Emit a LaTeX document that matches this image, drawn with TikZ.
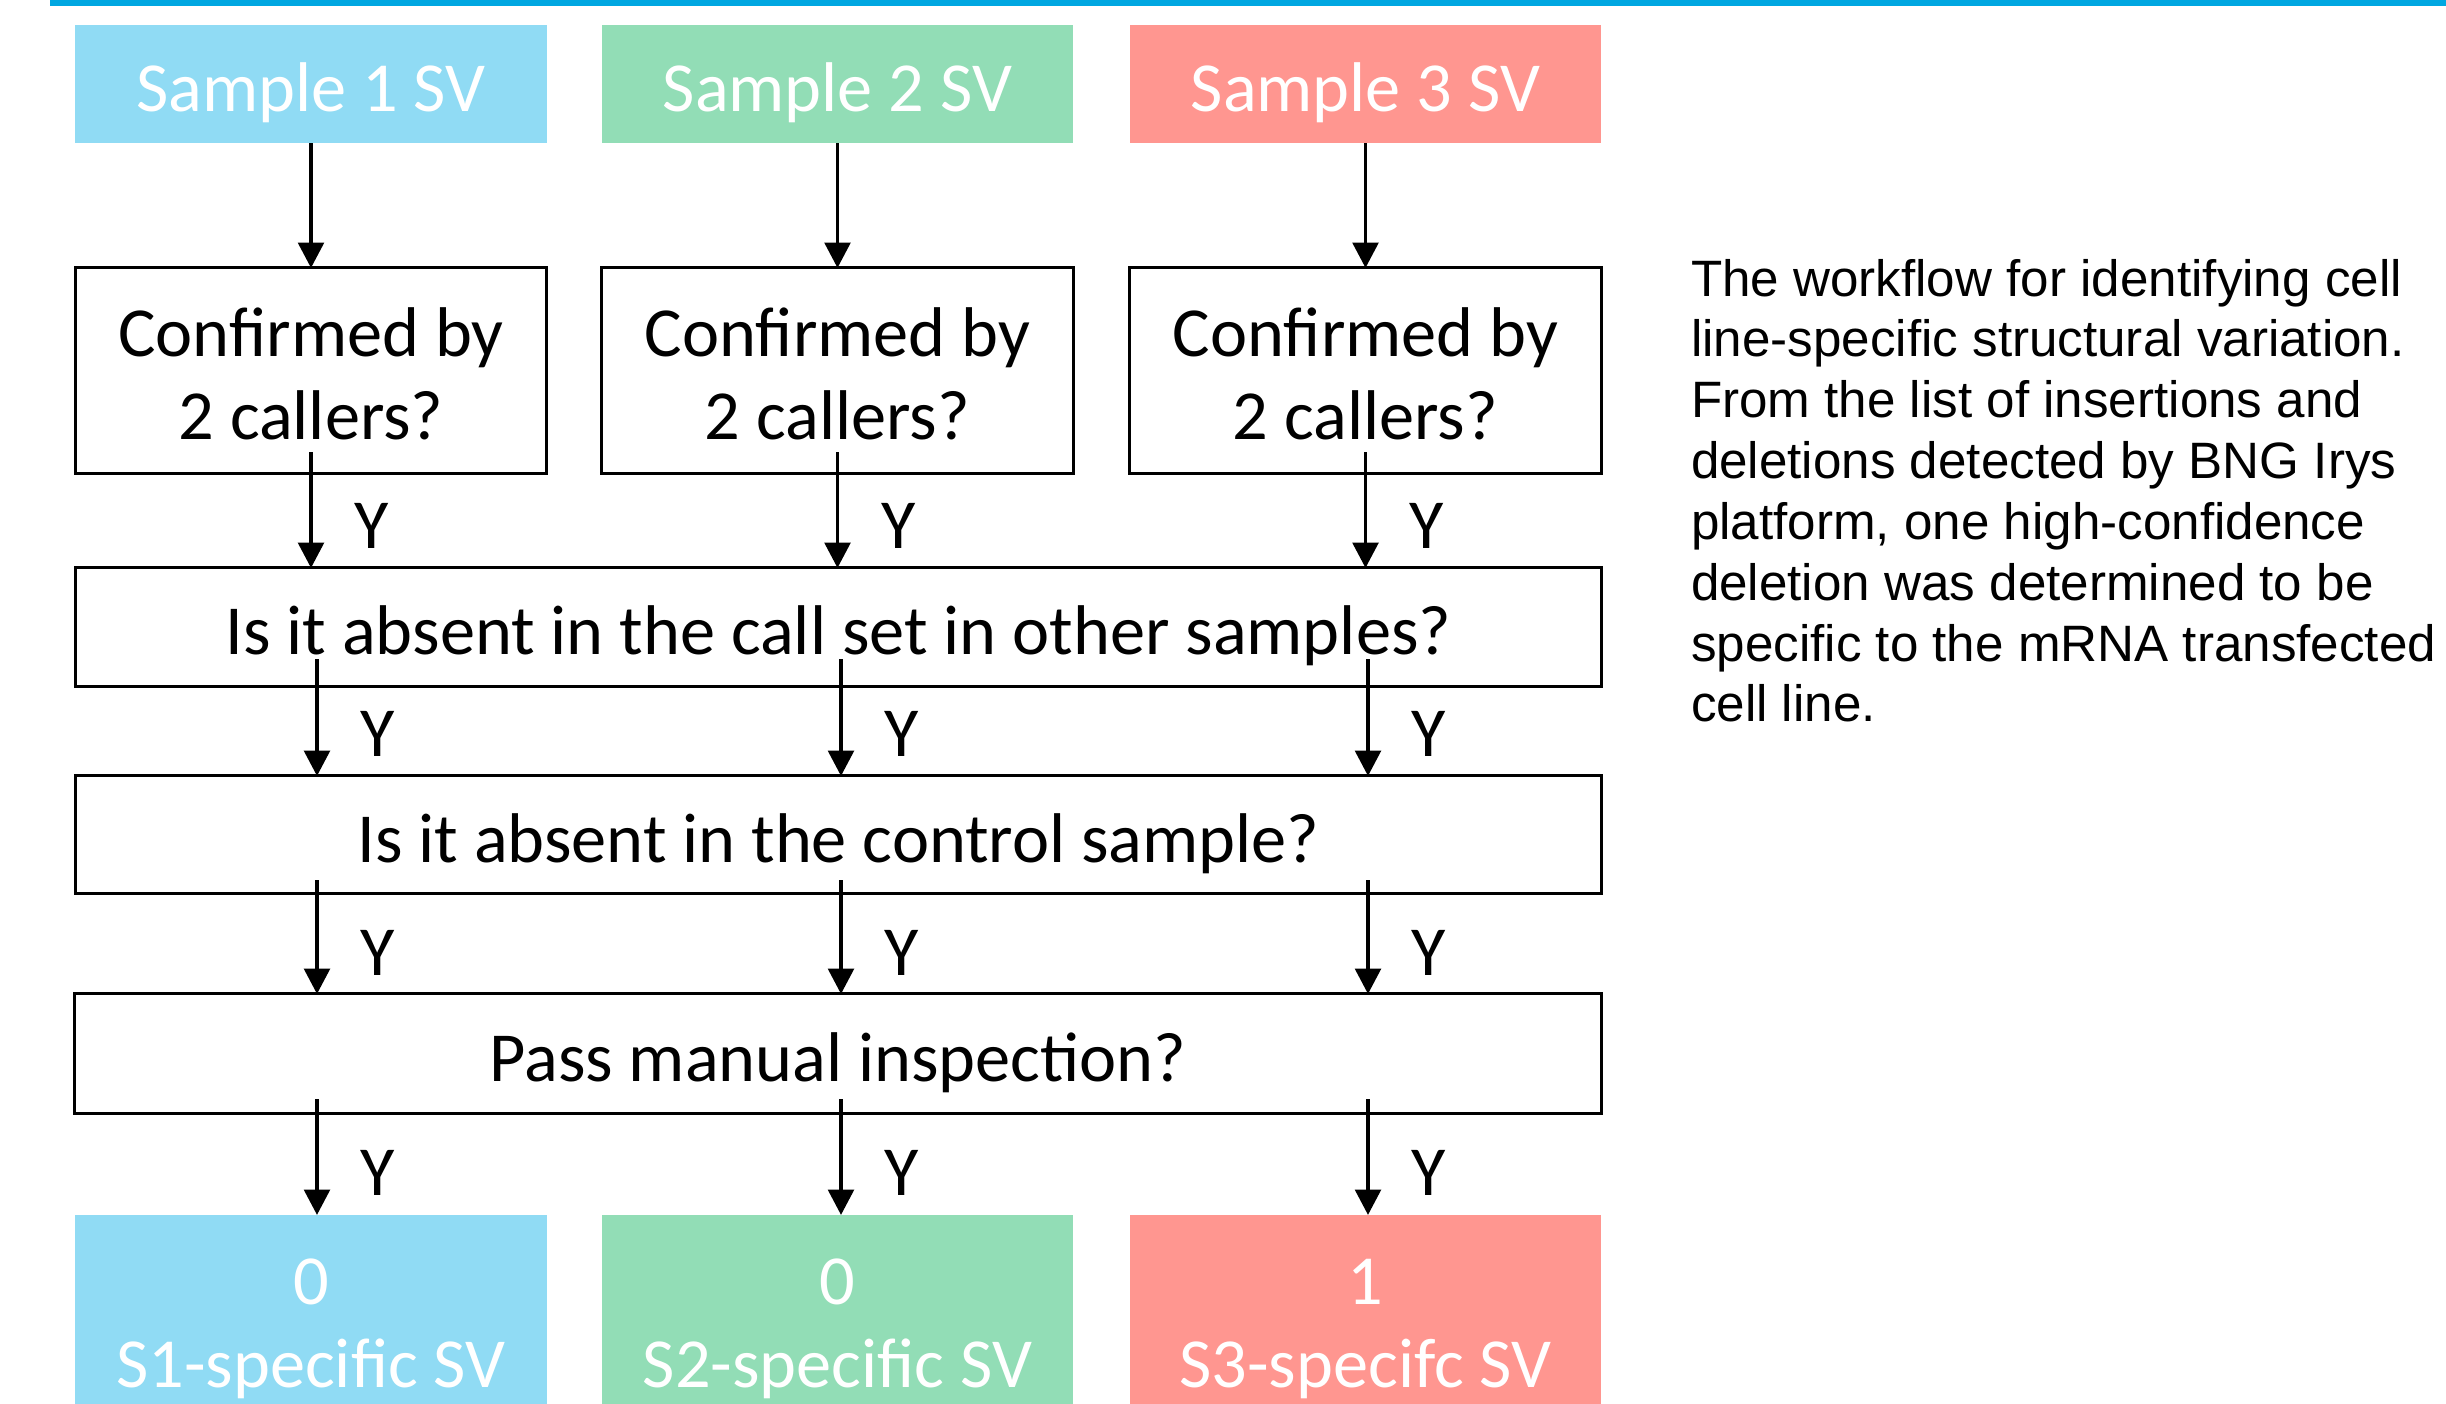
\documentclass[tikz,border=0pt]{standalone}
\usepackage{fontspec}
\setmainfont{Carlito}
\newfontfamily\notefont{Liberation Sans}
\usetikzlibrary{arrows.meta,calc}

\definecolor{barblue}{HTML}{00A7E1}
\definecolor{sOne}{HTML}{90DBF4}
\definecolor{sTwo}{HTML}{92DDB6}
\definecolor{sThree}{HTML}{FF9690}

\begin{document}
\begin{tikzpicture}[x=0.01cm,y=-0.01cm,
  every node/.style={inner sep=0pt, outer sep=0pt},
  boxfont/.style={font=\fontsize{20}{23.6}\selectfont},
  lowtext/.style={text height=15.9pt, text depth=0pt},
  twoline/.style={text height=39.5pt, text depth=0pt},
  colbox/.style={boxfont, lowtext, text=white, align=center, minimum width=4.71cm},
  qbox/.style={boxfont, lowtext, draw, line width=0.85pt, align=center},
  arr/.style={line width=1pt, -{Triangle[length=7.2pt,width=7.3pt]}},
  ylab/.style={boxfont, midway, xshift=0.61cm, yshift=-0.16cm}
]
\useasboundingbox (0,0) rectangle (2446,1404);

% header rule
\fill[barblue] (50,0) rectangle (2446,6);

% sample boxes
\node[colbox, fill=sOne,   minimum height=1.18cm] (s1) at (311,84)    {Sample 1 SV};
\node[colbox, fill=sTwo,   minimum height=1.18cm] (s2) at (837.5,84)  {Sample 2 SV};
\node[colbox, fill=sThree, minimum height=1.18cm] (s3) at (1365.5,84) {Sample 3 SV};

% caller check
\node[qbox, twoline, minimum width=4.70cm, minimum height=2.05cm] (c1) at (311,370.5)    {Confirmed by\\2 callers?};
\node[qbox, twoline, minimum width=4.71cm, minimum height=2.05cm] (c2) at (837.5,370.5)  {Confirmed by\\2 callers?};
\node[qbox, twoline, minimum width=4.71cm, minimum height=2.05cm] (c3) at (1365.5,370.5) {Confirmed by\\2 callers?};

% shared filters
\node[qbox, minimum width=15.25cm, minimum height=1.18cm] (callset) at (838.5,627)    {Is it absent in the call set in other samples?};
\node[qbox, minimum width=15.25cm, minimum height=1.17cm] (ctrl)    at (838.5,834.5)  {Is it absent in the control sample?};
\node[qbox, minimum width=15.27cm, minimum height=1.19cm] (manual)  at (838,1053.5)   {Pass manual inspection?};

% results
\node[colbox, twoline, fill=sOne,   minimum height=2.06cm] (r1) at (311,1318)    {0\\S1-specific SV};
\node[colbox, twoline, fill=sTwo,   minimum height=2.06cm] (r2) at (837.5,1318)  {0\\S2-specific SV};
\node[colbox, twoline, fill=sThree, minimum height=2.06cm] (r3) at (1365.5,1318) {1\\S3-specifc SV};

% arrow columns below the shared boxes
\coordinate (k1) at (317,0);
\coordinate (k2) at (841,0);
\coordinate (k3) at (1368,0);

% samples -> caller check
\draw[arr] (s1) -- (c1);
\draw[arr] (s2) -- (c2);
\draw[arr] (s3) -- (c3);

% caller check -> call set
\draw[arr] ($(c1.south)+(0,-21)$) -- node[ylab]{Y} (c1.south |- callset.north);
\draw[arr] ($(c2.south)+(0,-21)$) -- node[ylab]{Y} (c2.south |- callset.north);
\draw[arr] ($(c3.south)+(0,-21)$) -- node[ylab]{Y} (c3.south |- callset.north);

% call set -> control
\draw[arr] ($(callset.south -| k1)+(0,-27)$) -- node[ylab]{Y} (ctrl.north -| k1);
\draw[arr] ($(callset.south -| k2)+(0,-27)$) -- node[ylab]{Y} (ctrl.north -| k2);
\draw[arr] ($(callset.south -| k3)+(0,-27)$) -- node[ylab]{Y} (ctrl.north -| k3);

% control -> manual
\draw[arr] ($(ctrl.south -| k1)+(0,-13)$) -- node[ylab]{Y} (manual.north -| k1);
\draw[arr] ($(ctrl.south -| k2)+(0,-13)$) -- node[ylab]{Y} (manual.north -| k2);
\draw[arr] ($(ctrl.south -| k3)+(0,-13)$) -- node[ylab]{Y} (manual.north -| k3);

% manual -> results
\draw[arr] ($(manual.south -| k1)+(0,-14)$) -- node[ylab]{Y} (r1.north -| k1);
\draw[arr] ($(manual.south -| k2)+(0,-14)$) -- node[ylab]{Y} (r2.north -| k2);
\draw[arr] ($(manual.south -| k3)+(0,-14)$) -- node[ylab]{Y} (r3.north -| k3);

% description
\node[anchor=north west, align=left, font=\notefont\fontsize{14.55}{17.3}\selectfont] (note) at (1691,259)
  {The workflow for identifying cell\\
   line-specific structural variation.\\
   From the list of insertions and\\
   deletions detected by BNG Irys\\
   platform, one high-confidence\\
   deletion was determined to be\\
   specific to the mRNA transfected\\
   cell line.};
\end{tikzpicture}
\end{document}
